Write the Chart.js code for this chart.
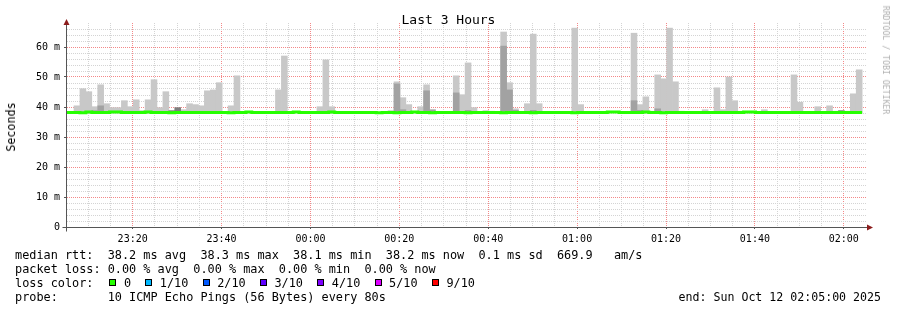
<!DOCTYPE html>
<html>
<head>
<meta charset="utf-8">
<script src="https://cdn.jsdelivr.net/npm/chart.js@4.4.0/dist/chart.umd.min.js"></script>
<style>
  body { margin: 0; background: #fff; }
  #wrap { position: relative; width: 897px; height: 310px; font-family: "DejaVu Sans Mono", monospace; color: #000; overflow: hidden; }
  #chart { position: absolute; left: 0; top: 0; }
  .t { position: absolute; white-space: pre; }
  #title { left: 0; width: 897px; top: 13px; text-align: center; font-size: 13px; line-height: 14px; }
  #ylab { left: 11px; top: 127px; transform: translate(-50%, -50%) rotate(-90deg); font-size: 11.7px; }
  #brand { left: 886px; top: 60px; transform: translate(-50%, -50%) rotate(90deg); font-size: 8.2px; color: #b0b0b0; }
  #info { left: 15px; top: 247.5px; font-size: 11.85px; line-height: 14px; }
  #end { right: 16px; top: 289.5px; font-size: 11.6px; line-height: 14px; }
  .box { display: inline-block; width: 7px; height: 7px; box-sizing: border-box; border: 1px solid #000; margin-left: 1.7px; margin-right: 7.5px; vertical-align: 1px; }
  .lt { margin-right: 12.6px; }
</style>
</head>
<body>
<div id="wrap">
  <canvas id="chart" width="897" height="310"></canvas>
  <div class="t" id="title">Last 3 Hours</div>
  <div class="t" id="ylab">Seconds</div>
  <div class="t" id="brand">RRDTOOL / TOBI OETIKER</div>
  <div class="t" id="info"></div>
  <div class="t" id="end">end: Sun Oct 12 02:05:00 2025</div>
</div>
<script>
// ---------------- Data ----------------
// one step = 80 s, x in seconds after 23:05:00; first step starts 52 s before the window
const stepSec = 80;
const firstEdge = -52;
const spanSec = 10800;

const timeLabels = ['23:20', '23:40', '00:00', '00:20', '00:40', '01:00', '01:20', '01:40', '02:00'];
const firstLabelSec = 900;
const labelEverySec = 1200;
const yTickLabels = ['0', '10 m', '20 m', '30 m', '40 m', '50 m', '60 m'];

// median rtt (ms), one value per step
const medianRtt = [
  38.2, 38.2, 38.2, 38.1, 38.3, 38.2, 38.2, 38.2, 38.3, 38.3,
  38.2, 38.2, 38.2, 38.2, 38.3, 38.2, 38.2, 38.2, 38.1, 38.2,
  38.2, 38.2, 38.2, 38.2, 38.2, 38.2, 38.2, 38.2, 38.1, 38.2,
  38.2, 38.3, 38.2, 38.2, 38.2, 38.2, 38.2, 38.2, 38.2, 38.3,
  38.2, 38.2, 38.2, 38.2, 38.2, 38.3, 38.2, 38.2, 38.2, 38.2,
  38.2, 38.2, 38.2, 38.1, 38.2, 38.2, 38.1, 38.2, 38.2, 38.3,
  38.2, 38.2, 38.1, 38.2, 38.2, 38.2, 38.2, 38.2, 38.1, 38.2,
  38.2, 38.2, 38.2, 38.2, 38.1, 38.2, 38.2, 38.2, 38.2, 38.1,
  38.2, 38.2, 38.2, 38.2, 38.2, 38.2, 38.1, 38.2, 38.2, 38.2,
  38.2, 38.2, 38.3, 38.3, 38.2, 38.2, 38.2, 38.2, 38.3, 38.2,
  38.2, 38.1, 38.2, 38.2, 38.2, 38.2, 38.2, 38.2, 38.2, 38.2,
  38.2, 38.2, 38.2, 38.2, 38.2, 38.3, 38.3, 38.2, 38.2, 38.2,
  38.2, 38.2, 38.2, 38.2, 38.2, 38.2, 38.2, 38.2, 38.2, 38.2,
  38.2, 38.2, 38.2, 38.2, 38.2, null
];

// smoke: slowest ping of the step (light grey)
const smokeMax = [
  null, null, 40.4, 46.1, 45.1, 40.1, 47.4, 41.1, 39.8, 39.8,
  42.1, 40.1, 42.4, 38.8, 42.4, 49.1, 39.8, 45.1, null, null,
  39.1, 41.1, 40.8, 40.4, 45.4, 45.7, 48.1, null, 40.4, 50.4,
  null, null, null, null, null, null, 45.7, 57.0, null, null,
  null, null, null, 40.1, 55.7, 40.1, null, null, null, null,
  null, null, null, null, null, 38.8, 48.4, 43.1, 40.8, null,
  40.1, 47.4, null, null, null, null, 50.4, 44.1, 54.7, 39.8,
  null, 38.8, 38.6, null, 65.0, 48.1, 39.4, null, 41.1, 64.3,
  41.1, null, null, null, null, null, 66.3, 40.8, null, null,
  null, null, null, null, null, null, 64.6, 40.8, 43.4, 38.6,
  50.7, 49.4, 66.3, 48.4, 38.6, null, 38.5, null, 39.1, null,
  46.4, 39.1, 50.0, 42.1, 38.6, 38.5, 38.5, null, 39.1, null,
  null, null, null, 50.7, 41.6, null, null, 40.1, null, 40.4,
  38.6, null, 38.6, 44.4, 52.4, null
];

// smoke: inner pings (mid grey)
const smokeMid = [
  null, null, null, null, null, 38.8, 40.4, null, null, null,
  null, null, null, null, null, null, null, null, null, null,
  null, null, null, null, null, null, null, null, null, null,
  null, null, null, null, null, null, null, null, null, null,
  null, null, null, null, null, null, null, null, null, null,
  null, null, null, null, null, null, 47.7, 39.1, null, null,
  null, 45.4, 39.1, null, null, null, 44.7, null, 38.9, null,
  null, null, null, null, 60.3, 45.7, 38.9, null, null, 38.9,
  null, null, null, null, null, null, null, null, null, null,
  null, null, null, null, null, null, 42.1, 38.9, null, null,
  39.4, null, null, null, null, null, null, null, null, null,
  null, null, null, null, null, null, null, null, null, null,
  null, null, null, null, null, null, null, null, null, null,
  null, null, null, null, null, null
];

// smoke: core pings (dark grey)
const smokeCore = [
  null, null, null, null, null, null, null, null, null, null,
  null, null, null, null, null, null, null, null, 38.8, 39.8,
  null, null, null, null, null, null, null, null, null, null,
  null, null, null, null, null, null, null, null, null, null,
  null, null, null, null, null, null, null, null, null, null,
  null, null, null, null, null, null, null, null, null, null,
  null, null, null, null, null, null, null, null, null, null,
  null, null, null, null, null, null, null, null, null, null,
  null, null, null, null, null, null, null, null, null, null,
  null, null, null, null, null, null, null, null, null, null,
  null, null, null, null, null, null, null, null, null, null,
  null, null, null, null, null, null, null, null, null, null,
  null, null, null, null, null, null, null, null, null, null,
  null, 38.8, null, null, null, null
];

const smokeFloor = 38.0;

const lossNames = ['0', '1/10', '2/10', '3/10', '4/10', '5/10', '9/10'];
const lossColors = ['#26ff00', '#00b8ff', '#0059ff', '#5e00ff', '#7e00ff', '#dd00ff', '#ff0000'];

// ---------------- Text block ----------------
const infoLines = [
  'median rtt:  38.2 ms avg  38.3 ms max  38.1 ms min  38.2 ms now  0.1 ms sd  669.9   am/s',
  'packet loss: 0.00 % avg  0.00 % max  0.00 % min  0.00 % now'
];
let legendHtml = 'loss color:  ';
lossNames.forEach((n, i) => {
  legendHtml += `<span class="box" style="background:${lossColors[i]}"></span><span class="lt">${n}</span>`;
});
document.getElementById('info').innerHTML =
  infoLines.join('\n') + '\n' + legendHtml + '\n' + 'probe:       10 ICMP Echo Pings (56 Bytes) every 80s';

// ---------------- Chart ----------------
const edge = j => firstEdge + j * stepSec;
const center = j => edge(j) + stepSec / 2;
const toBars = arr => arr.map((v, j) => ({ x: center(j), y: v == null ? null : [smokeFloor, v] }));

const medianPts = [];
medianRtt.forEach((v, j) => { if (v != null) medianPts.push({ x: edge(j), y: v }); });
const lastPt = medianPts[medianPts.length - 1];
medianPts.push({ x: lastPt.x + stepSec, y: lastPt.y });

const mono = 'DejaVu Sans Mono';
const minorGrid = '#d4d4d4';
const majorGrid = '#f48888';
const axisColor = '#555555';
const clear = 'rgba(0,0,0,0)';

const isMajorX = v => v >= firstLabelSec && (v - firstLabelSec) % labelEverySec === 0;

const barBase = { grouped: false, borderWidth: 0, barPercentage: 1, categoryPercentage: 1 };

const axisDecor = {
  id: 'axisDecor',
  afterDraw(chart) {
    const { ctx, chartArea: a } = chart;
    const x0 = Math.round(a.left) + 0.5, y0 = Math.round(a.bottom) + 0.5;
    ctx.save();
    ctx.strokeStyle = axisColor;
    ctx.lineWidth = 1;
    ctx.beginPath();
    ctx.moveTo(x0, y0 + 4); ctx.lineTo(x0, a.top);
    ctx.moveTo(x0 - 4, y0); ctx.lineTo(a.right + 3, y0);
    ctx.stroke();
    ctx.fillStyle = '#8c1c1c';
    ctx.beginPath();
    ctx.moveTo(x0, a.top - 4); ctx.lineTo(x0 - 3, a.top + 2); ctx.lineTo(x0 + 3, a.top + 2);
    ctx.closePath(); ctx.fill();
    ctx.beginPath();
    ctx.moveTo(a.right + 7, y0); ctx.lineTo(a.right + 1, y0 - 3); ctx.lineTo(a.right + 1, y0 + 3);
    ctx.closePath(); ctx.fill();
    ctx.restore();
  }
};

new Chart(document.getElementById('chart'), {
  type: 'bar',
  data: {
    datasets: [
      { type: 'line', data: medianPts, borderColor: '#26ff00', borderWidth: 3, pointRadius: 0,
        stepped: 'before', fill: false, clip: 0, order: 0, borderCapStyle: 'butt', borderJoinStyle: 'miter' },
      { ...barBase, data: toBars(smokeCore), backgroundColor: '#7e7e7e', order: 1 },
      { ...barBase, data: toBars(smokeMid), backgroundColor: '#a2a2a2', order: 2 },
      { ...barBase, data: toBars(smokeMax), backgroundColor: '#c8c8c8', order: 3 }
    ]
  },
  options: {
    responsive: false,
    animation: false,
    events: [],
    layout: { padding: { left: 0, right: 31, top: 23, bottom: 0 } },
    plugins: { legend: { display: false }, tooltip: { enabled: false }, title: { display: false } },
    scales: {
      x: {
        type: 'linear', min: 0, max: spanSec, offset: false,
        afterFit: s => { s.height = 83; },
        ticks: {
          stepSize: 300, autoSkip: false, maxRotation: 0, padding: 4,
          font: { family: mono, size: 10 }, color: '#000',
          callback: v => isMajorX(v) ? timeLabels[(v - firstLabelSec) / labelEverySec] : ''
        },
        grid: {
          offset: false, lineWidth: 1, tickLength: 2,
          color: c => {
            if (!c.tick) return clear;
            const v = c.tick.value;
            if (v <= 0 || v >= spanSec) return clear;
            return isMajorX(v) ? majorGrid : minorGrid;
          },
          tickColor: c => (c.tick && isMajorX(c.tick.value) ? axisColor : clear)
        },
        border: { color: axisColor, width: 1, dash: [1, 1] }
      },
      y: {
        min: 0, max: 68,
        afterFit: s => { s.width = 66; },
        ticks: {
          stepSize: 2, autoSkip: false, padding: 4,
          font: { family: mono, size: 10 }, color: '#000',
          callback: v => (v % 10 === 0 && v / 10 < yTickLabels.length) ? yTickLabels[v / 10] : ''
        },
        grid: {
          lineWidth: 1, tickLength: 2,
          color: c => {
            if (!c.tick) return clear;
            const v = c.tick.value;
            if (v <= 0 || v % 2 !== 0 || v > 66) return clear;
            return v % 10 === 0 ? majorGrid : minorGrid;
          },
          tickColor: c => (c.tick && c.tick.value % 10 === 0 && c.tick.value <= 60 ? axisColor : clear)
        },
        border: { color: axisColor, width: 1, dash: [1, 1] }
      }
    }
  },
  plugins: [axisDecor]
});
</script>
</body>
</html>
